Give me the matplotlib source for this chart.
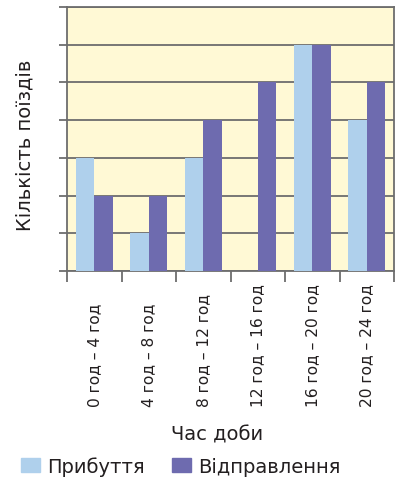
import matplotlib
matplotlib.use('Agg')
import matplotlib.pyplot as plt
import numpy as np
from matplotlib.transforms import blended_transform_factory
from matplotlib.patches import Patch

categories = ['0 год – 4 год', '4 год – 8 год', '8 год – 12 год',
              '12 год – 16 год', '16 год – 20 год', '20 год – 24 год']
arrivals = [3, 1, 3, 0, 6, 4]
departures = [2, 2, 4, 5, 6, 5]
series_names = ['Прибуття', 'Відправлення']
y_label = 'Кількість поїздів'
x_label = 'Час доби'

c_arr = '#AFD0EC'
c_dep = '#6E6BAF'
grid_c = '#6d6d6d'
txt_c = '#231F20'

plt.rcParams['font.family'] = ['DejaVu Sans']

W, H = 395, 481
fig = plt.figure(figsize=(W / 100, H / 100), dpi=100)
ax = fig.add_axes([67 / W, 1 - 272 / H, (394 - 67) / W, (272 - 8) / H])

x = np.arange(len(categories))
w = 0.34
ax.bar(x - w / 2, arrivals, w, color=c_arr, zorder=3)
ax.bar(x + w / 2, departures, w, color=c_dep, zorder=3)

ax.set_xlim(-0.5, len(categories) - 0.5)
ax.set_ylim(0, 7)
ax.set_facecolor('#FFF9D5')
ax.set_axisbelow(True)
ax.set_yticks(range(0, 8))
ax.set_yticklabels([])
ax.grid(axis='y', color=grid_c, lw=1.3)
ax.set_xticks(np.arange(-0.5, len(categories), 1))
ax.set_xticklabels([])
ax.tick_params(axis='x', direction='out', length=8, width=1.3, color=grid_c)
ax.tick_params(axis='y', direction='out', length=6, width=1.3, color=grid_c)
for s in ax.spines.values():
    s.set_color(grid_c)
    s.set_linewidth(1.3)

tr = blended_transform_factory(ax.transData, ax.transAxes)
for i, cat in enumerate(categories):
    ax.text(i, (272 - 407) / 264, cat, rotation=90, ha='center', va='bottom',
            transform=tr, fontsize=11.2, color=txt_c)

fig.text(25 / W, 1 - 145 / H, y_label, rotation=90, ha='center', va='center',
         fontsize=14, color=txt_c)
fig.text(217 / W, 1 - 435 / H, x_label, ha='center', va='center',
         fontsize=14, color=txt_c)

handles = [Patch(color=c_arr, label=series_names[0]),
           Patch(color=c_dep, label=series_names[1])]
fig.legend(handles=handles, loc='center', bbox_to_anchor=(181 / W, 1 - 467 / H),
           ncol=2, frameon=False, fontsize=14, handlelength=0.98,
           handleheight=0.77, handletextpad=0.36, columnspacing=1.4,
           labelcolor=txt_c, borderpad=0)

fig.savefig('out.png', dpi=100)
